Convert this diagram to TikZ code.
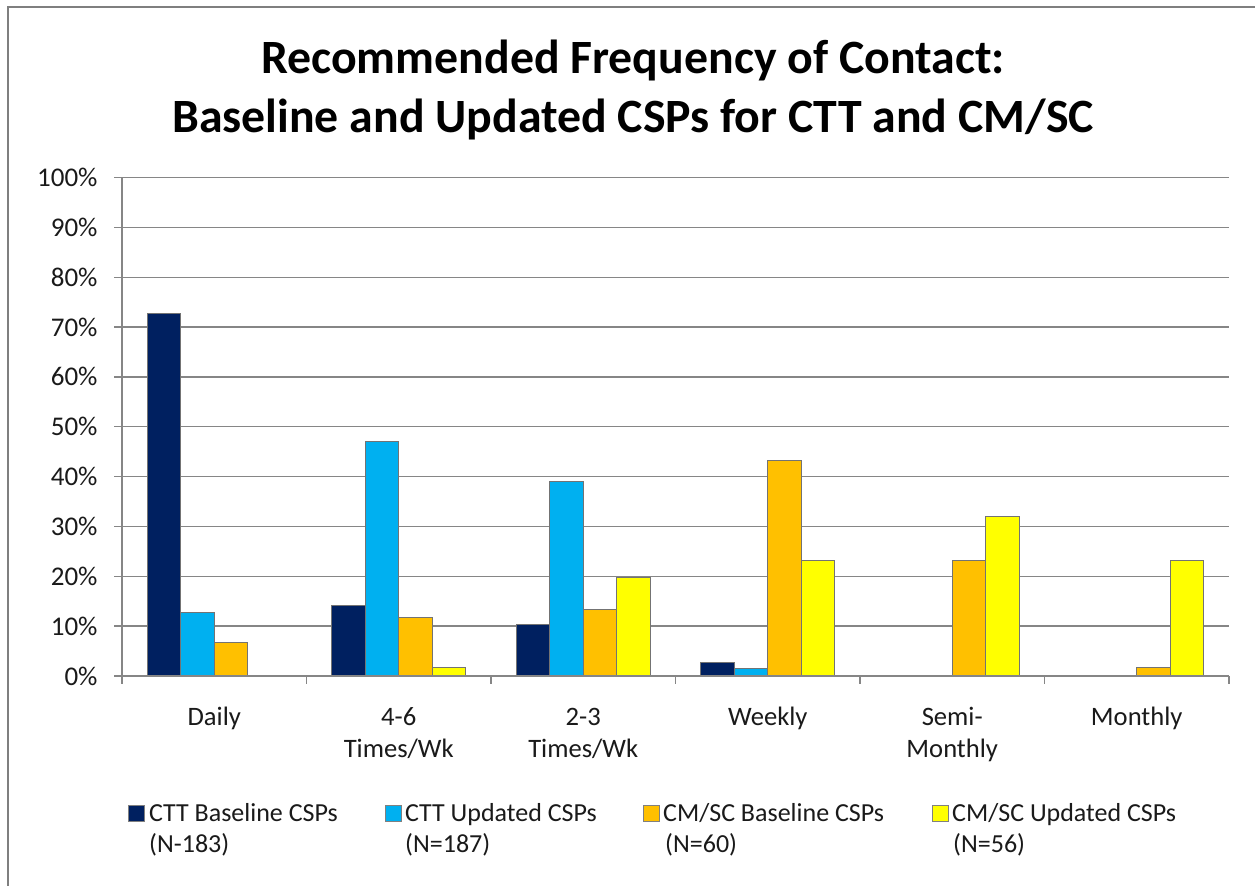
\documentclass[tikz,border=0pt]{standalone}
\usepackage{fontspec}
\setmainfont{Carlito}
\definecolor{ctta}{HTML}{002060}
\definecolor{cttb}{HTML}{00B0F0}
\definecolor{cmsa}{HTML}{FFC000}
\definecolor{cmsb}{HTML}{FFFF00}
\definecolor{gridc}{HTML}{868686}
\definecolor{framec}{HTML}{7F7F7F}
\definecolor{txtc}{HTML}{1A1A1A}
\tikzset{
  gridline/.style={gridc, line width=1.4bp},
  titletext/.style={font=\fontsize{47.8bp}{59bp}\selectfont\bfseries, text=black, inner sep=0pt, anchor=base},
  ylab/.style={font=\fontsize{27bp}{31bp}\selectfont, text=txtc, inner sep=0pt, anchor=base east},
  catlab/.style={font=\fontsize{26.6bp}{31bp}\selectfont, text=txtc, inner sep=0pt, anchor=base},
  leglab/.style={font=\fontsize{26bp}{31bp}\selectfont, text=txtc, inner sep=0pt, anchor=base west},
  barbox/.style={draw=black!55, line width=0.7bp},
  legbox/.style={draw=black!50, line width=0.6bp}
}
\begin{document}
\begin{tikzpicture}[x=1bp,y=-1bp]
\useasboundingbox (0,0) rectangle (1255,886);
\fill[white] (0,0) rectangle (1255,886);
\draw[framec, line width=2bp] (8,886) -- (8,7) -- (1255,7);
% title
\node[titletext] (t1) at (633,73) {Recommended Frequency of Contact:};
\node[titletext] (t2) at (633,132) {Baseline and Updated CSPs for CTT and CM/SC};
% grid
\foreach \i in {1,...,10} {
  \draw[gridline] (114,{676-49.85*\i}) -- (1229,{676-49.85*\i});
}
% y labels
\foreach \i in {0,...,10} {
  \pgfmathtruncatemacro\v{\i*10}
  \node[ylab] (yl\i) at (97.7,{676-49.85*\i+9}) {\v\%};
}
% bars
\foreach \c/\s/\v/\col in {
  0/0/72.7/ctta, 0/1/12.8/cttb, 0/2/6.7/cmsa,
  1/0/14.2/ctta, 1/1/47.1/cttb, 1/2/11.7/cmsa, 1/3/1.8/cmsb,
  2/0/10.4/ctta, 2/1/39.0/cttb, 2/2/13.3/cmsa, 2/3/19.7/cmsb,
  3/0/2.7/ctta, 3/1/1.5/cttb, 3/2/43.3/cmsa, 3/3/23.2/cmsb,
  4/2/23.3/cmsa, 4/3/32.1/cmsb,
  5/2/1.7/cmsa, 5/3/23.2/cmsb} {
  \draw[barbox, fill=\col] ({122+184.5*\c+25.25+33.5*\s},676) rectangle ++(33.5,{-4.985*\v});
}
% axes
\draw[gridline] (114,676) -- (1229,676);
\draw[gridline] (122,177.5) -- (122,684);
\foreach \k in {1,...,6} {
  \draw[gridline] ({122+184.5*\k},676) -- ({122+184.5*\k},684);
}
% category labels
\node[catlab] (c1) at (214.25,725.7) {Daily};
\node[catlab] (c2a) at (398.75,725.7) {4-6};
\node[catlab] (c2b) at (398.75,757) {Times/Wk};
\node[catlab] (c3a) at (583.25,725.7) {2-3};
\node[catlab] (c3b) at (583.25,757) {Times/Wk};
\node[catlab] (c4) at (767.75,725.7) {Weekly};
\node[catlab] (c5a) at (952.25,725.7) {Semi-};
\node[catlab] (c5b) at (952.25,757) {Monthly};
\node[catlab] (c6) at (1136.75,725.7) {Monthly};
% legend
\draw[legbox, fill=ctta] (128,805) rectangle (144,821);
\node[leglab] (l1a) at (149,821.7) {CTT Baseline CSPs};
\node[leglab] (l1b) at (149,852.5) {(N-183)};
\draw[legbox, fill=cttb] (385,805) rectangle (401,821);
\node[leglab] (l2a) at (405,821.7) {CTT Updated CSPs};
\node[leglab] (l2b) at (405,852.5) {(N=187)};
\draw[legbox, fill=cmsa] (643,805) rectangle (659,821);
\node[leglab] (l3a) at (663,821.7) {CM/SC Baseline CSPs};
\node[leglab] (l3b) at (665,852.5) {(N=60)};
\draw[legbox, fill=cmsb] (932,805) rectangle (948,821);
\node[leglab] (l4a) at (952,821.7) {CM/SC Updated CSPs};
\node[leglab] (l4b) at (953,852.5) {(N=56)};
\end{tikzpicture}
\end{document}
